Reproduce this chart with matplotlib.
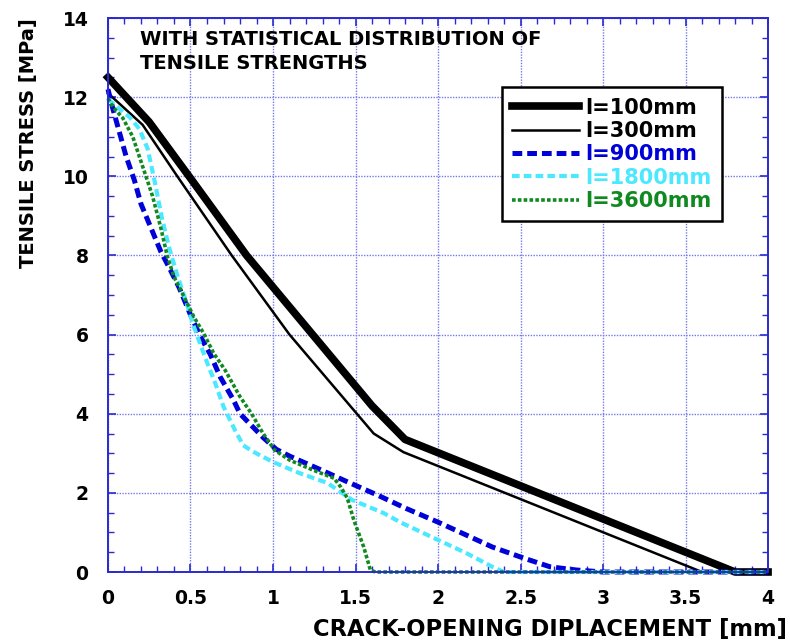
import matplotlib
matplotlib.use("Agg")
from matplotlib import pyplot as plt
from matplotlib.ticker import MultipleLocator

plt.rcParams['font.family'] = ['DejaVu Sans']
plt.rcParams['font.weight'] = 'bold'
plt.rcParams['axes.labelweight'] = 'bold'
plt.rcParams['lines.scale_dashes'] = False

# crack-opening displacement [mm] and tensile stress [MPa]
x100 = [0, 0.25, 0.5, 0.84, 1.15, 1.6, 1.8, 3.8, 4.0]
y100 = [12.5, 11.37, 9.95, 8.0, 6.45, 4.2, 3.35, 0, 0]

x300 = [0, 0.21, 0.42, 0.75, 1.1, 1.61, 1.79, 3.6, 4.0]
y300 = [12.1, 11.3, 10.0, 8.0, 6.0, 3.5, 3.03, 0, 0]

x900 = [0, 0.03, 0.11, 0.16, 0.2, 0.26, 0.32, 0.37, 0.43, 0.5, 0.56, 0.62, 0.68, 0.76, 0.8,
        0.87, 0.94, 1.02, 1.1, 1.28, 1.45, 1.63, 1.81, 2.0, 2.33, 2.52, 2.68, 2.84, 3.0, 4.0]
y900 = [12.2, 11.7, 10.5, 9.9, 9.3, 8.7, 8.1, 7.7, 7.2, 6.5, 5.95, 5.5, 4.93, 4.35, 4.0,
        3.7, 3.4, 3.1, 2.93, 2.6, 2.28, 1.95, 1.6, 1.26, 0.63, 0.35, 0.13, 0.05, 0.0, 0.0]

x1800 = [0, 0.07, 0.13, 0.19, 0.24, 0.285, 0.325, 0.37, 0.42, 0.48, 0.52, 0.56, 0.6, 0.65,
         0.7, 0.77, 0.82, 0.88, 1.0, 1.16, 1.33, 1.48, 1.67, 1.77, 2.0, 2.17, 2.33, 2.4, 4.0]
y1800 = [11.95, 11.7, 11.5, 11.2, 10.7, 9.83, 8.98, 8.2, 7.5, 6.75, 6.2, 5.75, 5.3, 4.77,
         4.18, 3.58, 3.2, 3.04, 2.78, 2.5, 2.25, 1.82, 1.49, 1.26, 0.81, 0.48, 0.13, 0.0, 0.0]

x3600 = [0, 0.03, 0.09, 0.15, 0.19, 0.23, 0.27, 0.32, 0.36, 0.4, 0.46, 0.52, 0.58, 0.64, 0.71,
         0.8, 0.87, 0.94, 1.01, 1.1, 1.24, 1.37, 1.41, 1.45, 1.49, 1.55, 1.59, 1.62, 4.0]
y3600 = [11.97, 11.75, 11.47, 11.0, 10.5, 10.0, 9.5, 8.7, 7.97, 7.46, 6.96, 6.45, 6.03, 5.53, 5.1,
         4.43, 4.0, 3.5, 3.08, 2.83, 2.58, 2.37, 2.15, 1.87, 1.31, 0.63, 0.05, 0.0, 0.0]

labels = ["l=100mm", "l=300mm", "l=900mm", "l=1800mm", "l=3600mm"]
xticks = [0, 0.5, 1, 1.5, 2, 2.5, 3, 3.5, 4]
xticklabels = ["0", "0.5", "1", "1.5", "2", "2.5", "3", "3.5", "4"]

blue = "#0000d8"
cyan = "#4ce8ff"
green = "#108a20"
axcol = "#2a2ad0"

fig = plt.figure(figsize=(7.9, 6.44), dpi=100)
ax = fig.add_axes([0.1367, 0.1118, 0.8355, 0.8602])

ax.plot(x100, y100, color="black", lw=5.5, clip_on=False, label=labels[0])
ax.plot(x300, y300, color="black", lw=1.8, clip_on=False, label=labels[1])
ax.plot(x900, y900, color=blue, lw=3.6, dashes=(7, 3.6), clip_on=False, label=labels[2])
ax.plot(x1800, y1800, color=cyan, lw=3.0, dashes=(5.5, 3), clip_on=False, label=labels[3])
ax.plot(x3600, y3600, color=green, lw=2.6, dashes=(2.6, 1.6), clip_on=False, label=labels[4])

ax.set_xlim(0, 4)
ax.set_ylim(0, 14)
ax.set_xticks(xticks)
ax.set_xticklabels(xticklabels)
ax.xaxis.set_minor_locator(MultipleLocator(0.1))
ax.yaxis.set_major_locator(MultipleLocator(2))
ax.yaxis.set_minor_locator(MultipleLocator(0.5))

ax.grid(True, which='major', color="#7878e8", linestyle=(0, (1, 1)), lw=1.0)
for s in ax.spines.values():
    s.set_color(axcol)
    s.set_linewidth(1.4)
ax.tick_params(which='both', direction='in', top=True, right=True, color=axcol, labelsize=13.5)
ax.tick_params(which='major', length=6, width=1.2)
ax.tick_params(which='minor', length=4, width=1.0)
ax.tick_params(axis='x', pad=12)
ax.tick_params(axis='y', pad=14)

ax.set_xlabel("CRACK-OPENING DIPLACEMENT [mm]", fontsize=16.3, ha='right')
ax.xaxis.set_label_coords(1.029, -0.083)
ax.set_ylabel("TENSILE STRESS [MPa]", fontsize=14, loc='top', labelpad=18)

ax.text(0.048, 0.978, "WITH STATISTICAL DISTRIBUTION OF\nTENSILE STRENGTHS",
        transform=ax.transAxes, fontsize=14, va='top', ha='left', linespacing=1.35)

leg = ax.legend(loc='upper right', bbox_to_anchor=(0.93, 0.875), fontsize=15,
                handlelength=3.2, handletextpad=0.3, labelspacing=0.16, borderpad=0.5,
                borderaxespad=0, fancybox=False, framealpha=1, edgecolor="black",
                labelcolor=["black", "black", blue, cyan, green])
leg.get_frame().set_linewidth(1.8)

fig.savefig("out.png", dpi=100)
